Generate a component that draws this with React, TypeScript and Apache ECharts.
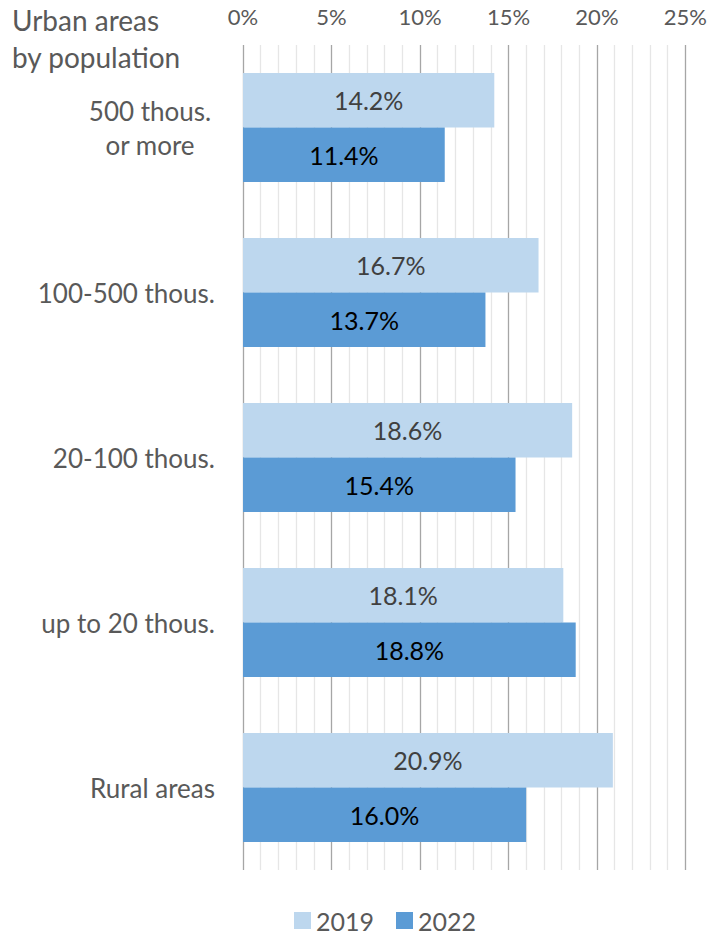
import React, { useEffect, useRef } from "react";
import * as echarts from "echarts";

const categories = ["500 thous.\nor more", "100-500 thous.", "20-100 thous.", "up to 20 thous.", "Rural areas"];
const values2019 = [14.2, 16.7, 18.6, 18.1, 20.9];
const values2022 = [11.4, 13.7, 15.4, 18.8, 16.0];
const tickLabels = ["0%", "5%", "10%", "15%", "20%", "25%"];

const FONT = "Lato, 'Open Sans', sans-serif";

export default function App() {
  const ref = useRef<HTMLDivElement>(null);

  useEffect(() => {
    if (!ref.current) return;
    const chart = echarts.init(ref.current, undefined, { renderer: "svg" });
    chart.setOption({
      animation: false,
      textStyle: { fontFamily: FONT },
      graphic: [
        {
          type: "text",
          left: 12,
          top: 1,
          style: {
            text: "Urban areas\nby population",
            fontSize: 28,
            lineHeight: 37,
            fill: "#595959",
            fontFamily: FONT,
          },
        },
      ],
      legend: {
        bottom: 0,
        left: 289,
        itemWidth: 17,
        itemHeight: 17,
        itemGap: 22,
        icon: "rect",
        textStyle: { fontSize: 25, color: "#595959", fontFamily: FONT },
        data: ["2019", "2022"],
      },
      grid: { left: 243, right: 24, top: 45, bottom: 68 },
      xAxis: {
        type: "value",
        position: "top",
        min: 0,
        max: 25,
        interval: 5,
        axisLine: { show: false },
        axisTick: { show: false },
        axisLabel: {
          margin: 18,
          fontSize: 22,
          color: "#595959",
          fontFamily: FONT,
          formatter: (v: number) => tickLabels[Math.round(v / 5)] ?? "",
        },
        splitLine: { show: true, lineStyle: { color: "#A6A6A6", width: 1.3 } },
        minorTick: { show: false, splitNumber: 5 },
        minorSplitLine: { show: true, lineStyle: { color: "#E6E6E6", width: 1.3 } },
      },
      yAxis: {
        type: "category",
        inverse: true,
        data: categories,
        axisLine: { show: false },
        axisTick: { show: false },
        axisLabel: {
          margin: 28,
          fontSize: 26,
          color: "#595959",
          fontFamily: FONT,
          lineHeight: 34,
          formatter: (v: string) =>
            v.includes("\n")
              ? v.split("\n").map((l) => `{c|${l}}`).join("\n")
              : v,
          rich: {
            c: {
              width: 130,
              align: "center",
              fontSize: 26,
              lineHeight: 34,
              color: "#595959",
              fontFamily: FONT,
            },
          },
        },
      },
      series: [
        {
          name: "2019",
          type: "bar",
          data: values2019,
          barGap: "0%",
          barCategoryGap: "34%",
          itemStyle: { color: "#BDD7EE" },
          label: {
            show: true,
            position: "inside",
            fontSize: 25,
            color: "#404040",
            fontFamily: FONT,
            formatter: (p: any) => `${p.value.toFixed(1)}%`,
          },
        },
        {
          name: "2022",
          type: "bar",
          data: values2022,
          barGap: "0%",
          barCategoryGap: "34%",
          itemStyle: { color: "#5B9BD5" },
          label: {
            show: true,
            position: "inside",
            fontSize: 25,
            color: "#000000",
            fontFamily: FONT,
            formatter: (p: any) => `${p.value.toFixed(1)}%`,
          },
        },
      ],
    });
    return () => chart.dispose();
  }, []);

  return (
    <div
      ref={ref}
      style={{ position: "fixed", left: 0, top: 0, width: 710, height: 938, background: "#fff" }}
    />
  );
}
